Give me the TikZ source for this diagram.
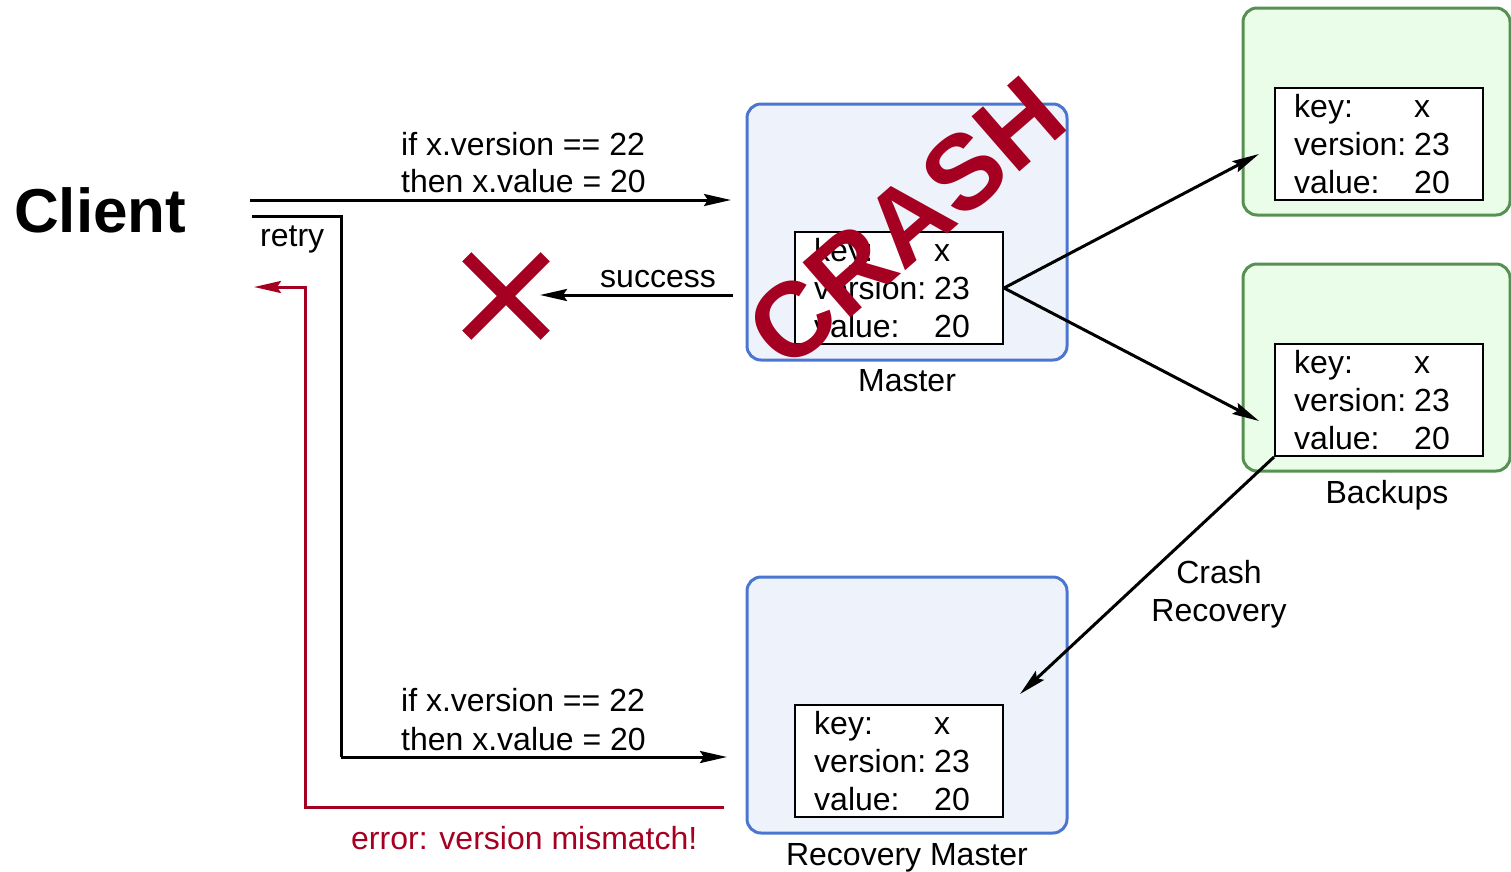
\documentclass[tikz,border=0pt]{standalone}
\usepackage{fontspec}
\setmainfont{Liberation Sans}
\usetikzlibrary{arrows.meta}

\definecolor{crashred}{HTML}{A50021}
\definecolor{masterblue}{HTML}{4A76CF}
\definecolor{masterfill}{HTML}{EEF3FB}
\definecolor{backupgreen}{HTML}{559150}
\definecolor{backupfill}{HTML}{EAFDE9}

% one key/version/value record: name, centre x, top y
\newcommand\kvrecord[3]{%
  \node[record] (#1) at (#2, #3+56) {};
  \node[txt, anchor=base west] (#1-k)  at ([shift={(20,30)}]#1.north west)  {key:};
  \node[txt, anchor=base west] (#1-kv) at ([shift={(140,30)}]#1.north west) {x};
  \node[txt, anchor=base west] (#1-v)  at ([shift={(20,68)}]#1.north west)  {version:};
  \node[txt, anchor=base west] (#1-vv) at ([shift={(140,68)}]#1.north west) {23};
  \node[txt, anchor=base west] (#1-a)  at ([shift={(20,106)}]#1.north west) {value:};
  \node[txt, anchor=base west] (#1-av) at ([shift={(140,106)}]#1.north west) {20};
}

\begin{document}
\begin{tikzpicture}[x=1pt, y=-1pt,
  txt/.style={font=\fontsize{32}{38}\selectfont, inner sep=0pt},
  record/.style={draw=black, fill=white, line width=2pt, rectangle,
    minimum width=208pt, minimum height=112pt, inner sep=0pt},
  masterbox/.style={draw=masterblue, fill=masterfill, line width=3pt,
    rounded corners=14pt, rectangle, minimum width=320pt, minimum height=256pt},
  backupbox/.style={draw=backupgreen, fill=backupfill, line width=3pt,
    rounded corners=14pt, rectangle, minimum width=267pt, minimum height=207pt},
  tip/.style={-{Stealth[length=27pt, width=12pt, inset=4pt]}},
  flow/.style={line width=3pt, tip},
  errflow/.style={draw=crashred, line width=3pt, tip},
]
\useasboundingbox (0,0) rectangle (1511,871);

% client
\node[font=\fontsize{62}{62}\selectfont\bfseries, inner sep=0pt, anchor=base west]
  (client) at (14,232) {Client};

% master and its record
\node[masterbox] (master) at (907,232) {};
\kvrecord{mrec}{899}{232}
\node[txt, anchor=base] (masterlbl) at (907,391) {Master};

% backups
\node[backupbox] (backup1) at (1376.5,111.5) {};
\kvrecord{brec1}{1379}{88}
\node[backupbox] (backup2) at (1376.5,367.5) {};
\kvrecord{brec2}{1379}{344}
\node[txt, anchor=base] (backuplbl) at (1387,503) {Backups};

% recovery master
\node[masterbox] (recovery) at (907,705) {};
\kvrecord{rrec}{899}{705}
\node[txt, anchor=base] (recoverylbl) at (907,865) {Recovery Master};

% free ends of the connectors
\coordinate (reqStart)   at (250,200);
\coordinate (reqEnd)     at (731,200);
\coordinate (succStart)  at (733,295);
\coordinate (succEnd)    at (540,295);
\coordinate (retryStart) at (252,216);
\coordinate (retryTurn)  at (341,757);
\coordinate (retryEnd)   at (727,757);
\coordinate (errStart)   at (724,807);
\coordinate (errTurn)    at (305,287);
\coordinate (errEnd)     at (254,287);
\coordinate (rep1)       at (1259,154);
\coordinate (rep2)       at (1259,421);
\coordinate (recEnd)     at (1020,694);

% first request and its lost reply
\draw[flow] (reqStart) -- (reqEnd);
\node[txt, anchor=base west] (req1a) at (401,155) {if x.version == 22};
\node[txt, anchor=base west] (req1b) at (401,192) {then x.value = 20};
\draw[flow] (succStart) -- (succEnd);
\node[txt, anchor=base east] (succlbl) at (716,287) {success};

% lost reply marker
\node[inner sep=0pt, minimum size=88pt] (lost) at (506,296) {};
\draw[crashred, line width=13pt] (lost.north west) ++(5,5) -- ([shift={(-5,-5)}]lost.south east);
\draw[crashred, line width=13pt] (lost.north east) ++(-5,5) -- ([shift={(5,-5)}]lost.south west);

% retry
\draw[line width=3pt] (retryStart) -| (retryTurn);
\draw[flow] (retryTurn) -- (retryEnd);
\node[txt, anchor=base west] (retrylbl) at (260,246) {retry};
\node[txt, anchor=base west] (req2a) at (401,711) {if x.version == 22};
\node[txt, anchor=base west] (req2b) at (401,750) {then x.value = 20};

% error back to the client
\draw[errflow] (errStart) -| (errTurn) -- (errEnd);
\node[txt, anchor=base west, text=crashred] (errlbl) at (351,849) {error: version mismatch!};

% replication
\draw[flow] (mrec.east) -- (rep1);
\draw[flow] (mrec.east) -- (rep2);

% crash recovery
\draw[flow] (brec2.south west) -- (recEnd);
\node[txt, anchor=base] (crashlblA) at (1219,583) {Crash};
\node[txt, anchor=base] (crashlblB) at (1219,621) {Recovery};

% crash stamp
\node[rotate=41, text=crashred, inner sep=0pt,
  font=\fontsize{106}{106}\selectfont\bfseries] (crash) at (906,222) {CRASH};
\end{tikzpicture}
\end{document}
